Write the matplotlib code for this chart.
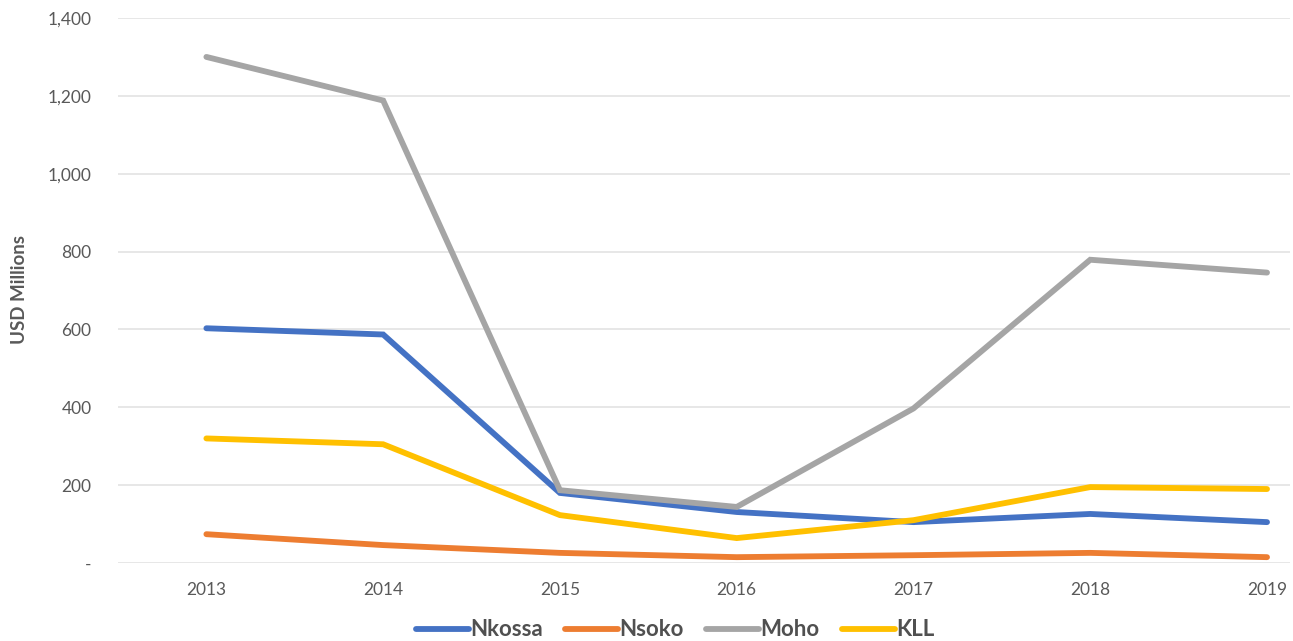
"""Production value by field, 2013-2019 (USD millions)."""

import matplotlib
matplotlib.use("Agg")
import matplotlib.pyplot as plt
from matplotlib.ticker import FuncFormatter

years = ["2013", "2014", "2015", "2016", "2017", "2018", "2019"]
nkossa = [603, 587, 180, 131, 105, 126, 105]
nsoko = [74, 46, 26, 15, 20, 26, 15]
moho = [1300, 1188, 187, 144, 397, 779, 746]
kll = [320, 305, 123, 64, 110, 195, 190]

series = [
    ("Nkossa", nkossa, "#4472C4"),
    ("Nsoko", nsoko, "#ED7D31"),
    ("Moho", moho, "#A5A5A5"),
    ("KLL", kll, "#FFC000"),
]

plt.rcParams["font.family"] = ["Lato", "DejaVu Sans"]
text_grey = "#595959"

fig = plt.figure(figsize=(12.93, 6.41), dpi=100)
ax = fig.add_axes([118 / 1293, 1 - 563 / 641, (1290 - 118) / 1293, (563 - 18) / 641])

x = list(range(len(years)))
for name, vals, col in series:
    ax.plot(x, vals, color=col, lw=4.2, label=name, solid_capstyle="round",
            solid_joinstyle="miter")

ax.set_ylim(0, 1400)
ax.set_yticks(range(0, 1401, 200))
ax.yaxis.set_major_formatter(FuncFormatter(lambda v, _: "-" if v == 0 else f"{v:,.0f}"))
ax.set_xticks(x)
ax.set_xticklabels(years)
ax.set_xlim(-0.5, 6.13)

ax.grid(axis="y", color="#E3E3E3", lw=1.2)
ax.set_axisbelow(True)
for s in ax.spines.values():
    s.set_visible(False)
ax.tick_params(length=0, labelsize=12.5, colors=text_grey)
ax.tick_params(axis="y", pad=19)
ax.tick_params(axis="x", pad=14)

fig.text(20 / 1293, 1 - 290 / 641, "USD Millions", rotation=90, ha="center", va="center",
         fontsize=13.5, fontweight="bold", color=text_grey)

fig.legend(loc="center", bbox_to_anchor=(675 / 1293, 1 - 630 / 641), ncol=4,
           frameon=False, handlelength=2.4, handletextpad=0.05, columnspacing=1.0,
           prop={"size": 16, "weight": "bold"}, labelcolor="#505050")

fig.savefig("out.png", dpi=100)
